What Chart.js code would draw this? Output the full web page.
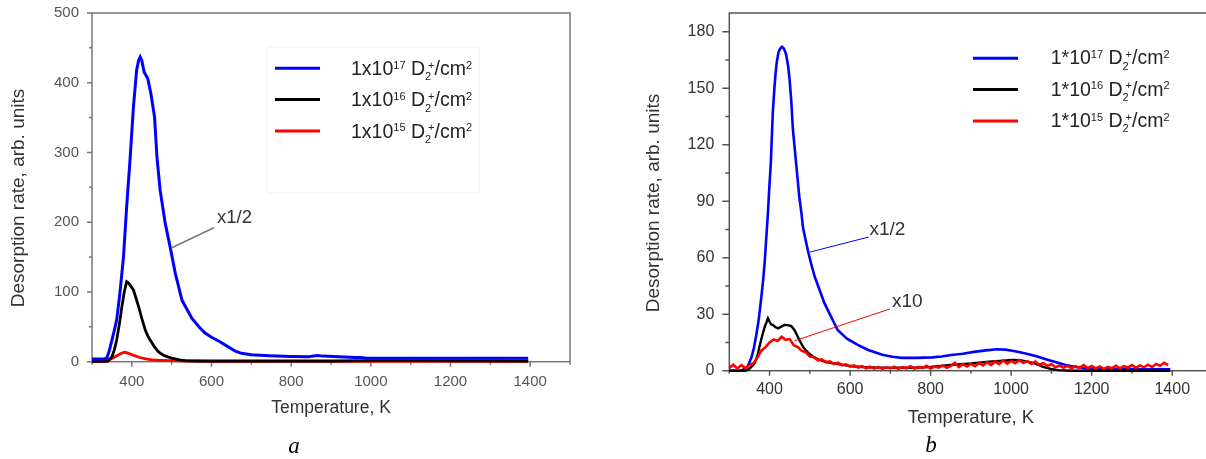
<!DOCTYPE html>
<html>
<head>
<meta charset="utf-8">
<script src="https://cdn.jsdelivr.net/npm/chart.js@4/dist/chart.umd.min.js"></script>
<style>
html, body { margin: 0; padding: 0; background: #fff; overflow: hidden; width: 1206px; height: 459px; }
#wrapA { position: absolute; left: 0; top: 0; width: 600px; height: 459px; }
#wrapB { position: absolute; left: 606px; top: 0; width: 620px; height: 459px; }
.cap { position: absolute; font: italic 23px "Liberation Serif", "DejaVu Serif", serif; color: #000; transform: translate(-50%, -50%); }
</style>
</head>
<body>
<div id="wrapA"><canvas id="chartA" width="600" height="459"></canvas></div>
<div id="wrapB"><canvas id="chartB" width="620" height="459"></canvas></div>
<div class="cap" style="left:294px;top:446px">a</div>
<div class="cap" style="left:931px;top:445px">b</div>
<script>
const FONT = '"Liberation Sans", Arial, sans-serif';

// ---------------- DATA ----------------
const labels17A = '1x10^{17} D_{2}^{+}/cm^{2}';
const labels16A = '1x10^{16} D_{2}^{+}/cm^{2}';
const labels15A = '1x10^{15} D_{2}^{+}/cm^{2}';
const labels17B = '1*10^{17} D_{2}^{+}/cm^{2}';
const labels16B = '1*10^{16} D_{2}^{+}/cm^{2}';
const labels15B = '1*10^{15} D_{2}^{+}/cm^{2}';

const xTicks = [400, 600, 800, 1000, 1200, 1400];
const yTicksA = [0, 100, 200, 300, 400, 500];
const yTicksB = [0, 30, 60, 90, 120, 150, 180];

// panel a
const tempA17 = [300, 330, 337, 343, 350, 356, 362, 370, 379, 387, 396, 404, 412, 417, 421, 425, 431, 440, 448, 457,
    463, 471, 484, 496, 509, 526, 551, 570, 584, 600, 620, 640, 660, 675, 700, 745, 800, 843, 865, 880,
    920, 960, 975, 990, 1100, 1200, 1300, 1395];
const rateA17 = [4, 4, 5, 15, 31, 45, 60, 98, 150, 222, 294, 365, 418, 432, 437, 432, 415, 406, 384, 351,
    294, 246, 198, 165, 127, 88, 62, 49, 41, 35, 29, 22, 15, 12, 10, 8.6, 7.5, 7, 9, 8,
    7, 6, 6, 5, 5, 5, 5, 5];

const tempA16 = [300, 340, 350, 356, 362, 369, 375, 381, 387, 393, 398, 404, 410, 417, 425, 434, 440, 446, 456, 467,
    480, 500, 520, 534, 560, 600, 700, 900, 1000, 1100, 1395];
const rateA16 = [0.5, 1, 7, 17, 31, 55, 79, 100, 114.6, 112, 108, 103, 92, 79, 62, 45, 37, 31, 22, 14,
    9, 5, 2.5, 1.5, 1, 1, 1, 1, 1.5, 1.5, 1];

const tempA15 = [300, 333, 345, 358, 370, 378, 383, 392, 405, 420, 435, 450, 470, 500, 540, 600, 1395];
const rateA15 = [0, 0, 3, 7, 11, 13, 13.5, 12, 9, 6, 4, 2.5, 2, 1.5, 1, 0.5, 0.5];

// panel b
const tempB17 = [300, 330, 345, 355, 361, 367, 373, 379, 384, 388, 392, 396, 399, 403, 408, 412, 415, 418, 422, 426,
    431, 436, 441, 446, 450, 454, 458, 462, 466, 470, 474, 479, 483, 489, 495, 503, 512, 524, 536, 552,
    569, 592, 619, 645, 680, 705, 728, 766, 804, 827, 851, 880, 908, 937, 965, 985, 1003, 1022, 1041, 1065,
    1088, 1112, 1135, 1160, 1182, 1206, 1230, 1300, 1395];
const rateB17 = [0, 0, 2, 7, 12, 19, 27, 38, 48, 58, 71, 84, 96, 110, 137, 150, 158, 164, 169, 171,
    172, 171, 168, 162, 154, 143, 128, 119, 110, 101, 92, 84, 76, 70, 64, 57, 50, 43, 36, 29,
    21.6, 17, 13.7, 11, 8.5, 7.4, 6.8, 6.8, 7.1, 7.5, 8.3, 9, 10, 10.8, 11.4, 11.2, 10.6, 9.8, 8.9, 7.5,
    6, 4.5, 3, 2, 1.3, 1, 0.7, 0.7, 0.7];

const tempB16 = [300, 340, 350, 357, 363, 370, 375, 381, 388, 392, 396, 400, 404, 408, 414, 421, 428, 437, 446, 454,
    462, 470, 476, 483, 490, 499, 510, 520, 535, 550, 567, 585, 605, 630, 662, 700, 757, 800, 851, 900,
    946, 980, 1003, 1022, 1041, 1060, 1079, 1098, 1117, 1150, 1395];
const rateB16 = [0, 0, 1, 2.5, 4, 8, 12.8, 18, 23.4, 25.5, 27.8, 26, 24.5, 24.3, 23.2, 22.5, 23.3, 24.3, 24.2, 23.7,
    21.5, 18, 15.5, 12.8, 10.8, 9, 7.2, 6, 5, 4.2, 3.6, 3, 2.4, 2, 1.7, 1.6, 1.6, 2, 3, 3.8,
    4.8, 5.3, 5.7, 5.6, 4.8, 3.8, 2, 1, 0.3, 0, 0];

const tempB15 = [300, 310, 320, 330, 340, 350, 360, 370, 380, 390, 400, 410, 420, 430, 440, 450, 460, 470, 480, 490,
    500, 510, 520, 530, 540, 550, 560, 570, 580, 590, 600, 610, 620, 630, 640, 650, 660, 670, 680, 690,
    700, 710, 720, 730, 740, 750, 760, 770, 780, 790, 800, 810, 820, 830, 840, 850, 860, 870, 880, 890,
    900, 910, 920, 930, 940, 950, 960, 970, 980, 990, 1000, 1010, 1020, 1030, 1040, 1050, 1060, 1070, 1080, 1090,
    1100, 1110, 1120, 1130, 1140, 1150, 1160, 1170, 1180, 1190, 1200, 1210, 1220, 1230, 1240, 1250, 1260, 1270, 1280, 1290,
    1300, 1310, 1320, 1330, 1340, 1350, 1360, 1370, 1380, 1390];
const rateB15 = [1.5, 3.2, 1.2, 3.0, 1.4, 3.0, 4.0, 7.0, 10.8, 12.5, 15.0, 16.6, 15.8, 18.0, 16.4, 16.8, 13.5, 12.6, 10.5, 9.8,
    7.5, 7.2, 5.5, 6.0, 4.5, 5.0, 3.5, 4.2, 2.8, 3.4, 2.2, 2.8, 1.6, 2.4, 1.3, 2.1, 1.1, 2.0, 1.0, 1.8,
    1.2, 2.1, 1.0, 1.9, 1.3, 2.4, 1.1, 2.0, 1.5, 2.6, 1.2, 2.2, 1.6, 2.8, 1.5, 2.5, 4.2, 2.0, 3.5, 2.2,
    3.6, 2.4, 4.0, 2.8, 4.5, 3.0, 4.8, 3.5, 5.5, 3.8, 5.2, 4.0, 5.6, 4.2, 5.0, 3.6, 4.8, 3.2, 4.0, 2.6,
    3.4, 1.8, 2.8, 1.5, 2.6, 1.2, 2.4, 1.5, 3.0, 1.4, 2.5, 1.2, 2.2, 1.0, 2.0, 1.3, 2.6, 1.2, 2.4, 1.6,
    3.0, 1.5, 2.8, 1.8, 3.2, 2.0, 3.6, 2.6, 4.2, 3.0];

// ---------------- HELPERS ----------------

// draws text with ^{sup} and _{sub}; a sup right after a sub sits above it
function drawRich(ctx, text, x, y, size, color) {
    const parts = text.split(/(\^\{[^}]*\}|_\{[^}]*\})/).filter(s => s);
    const small = Math.round(size * 0.56);
    let cx = x;
    let subStart = null, subW = 0;
    ctx.fillStyle = color;
    ctx.textAlign = 'left';
    ctx.textBaseline = 'alphabetic';
    parts.forEach(p => {
        if (p[0] === '^' || p[0] === '_') {
            const t = p.slice(2, -1);
            ctx.font = small + 'px ' + FONT;
            const w = ctx.measureText(t).width;
            if (p[0] === '^') {
                const sx = subStart !== null ? subStart + subW * 0.5 : cx;
                ctx.fillText(t, sx, y - size * 0.33);
                cx = Math.max(cx, sx + w);
                subStart = null;
            } else {
                ctx.fillText(t, cx, y + size * 0.28);
                subStart = cx;
                subW = w;
                cx += w;
            }
        } else {
            ctx.font = size + 'px ' + FONT;
            ctx.fillText(p, cx, y);
            cx += ctx.measureText(p).width;
            subStart = null;
        }
    });
}

const frameTicksPlugin = {
    id: 'frameTicks',
    beforeDatasetsDraw(chart, args, o) {
        const { ctx, chartArea: { left, right, top, bottom }, scales: { x, y } } = chart;
        ctx.save();
        ctx.strokeStyle = o.color;
        ctx.lineWidth = o.width;
        ctx.strokeRect(left, top, right - left, bottom - top);
        ctx.beginPath();
        for (let v = x.min; v <= x.max; v += o.xMinor) {
            const px = x.getPixelForValue(v);
            const len = x.ticks.some(t => t.value === v) ? o.xMajorLen : o.xMinorLen;
            ctx.moveTo(px, bottom);
            ctx.lineTo(px, bottom + len);
        }
        for (let v = y.min; v <= y.max; v += o.yMinor) {
            const py = y.getPixelForValue(v);
            const len = y.ticks.some(t => t.value === v) ? o.yMajorLen : o.yMinorLen;
            ctx.moveTo(left, py);
            ctx.lineTo(left - len, py);
        }
        ctx.stroke();
        // rotated y title
        const t = o.yTitle;
        ctx.translate(t.x, t.y);
        ctx.rotate(-Math.PI / 2);
        ctx.font = t.size + 'px ' + FONT;
        ctx.fillStyle = t.color;
        ctx.textAlign = 'center';
        ctx.textBaseline = 'middle';
        ctx.fillText(t.text, 0, 0);
        ctx.restore();
    }
};

const notesPlugin = {
    id: 'notes',
    afterDatasetsDraw(chart, args, o) {
        const { ctx, scales: { x, y } } = chart;
        ctx.save();
        (o.lines || []).forEach(l => {
            ctx.strokeStyle = l.color;
            ctx.lineWidth = l.width;
            ctx.beginPath();
            ctx.moveTo(x.getPixelForValue(l.from[0]), y.getPixelForValue(l.from[1]));
            ctx.lineTo(x.getPixelForValue(l.to[0]), y.getPixelForValue(l.to[1]));
            ctx.stroke();
        });
        (o.texts || []).forEach(t => {
            ctx.font = t.size + 'px ' + FONT;
            ctx.fillStyle = t.color;
            ctx.textAlign = 'left';
            ctx.textBaseline = 'middle';
            ctx.fillText(t.text, x.getPixelForValue(t.at[0]), y.getPixelForValue(t.at[1]));
        });
        ctx.restore();
    }
};

const richLegendPlugin = {
    id: 'richLegend',
    afterDraw(chart, args, o) {
        const ctx = chart.ctx;
        ctx.save();
        if (o.box) {
            ctx.strokeStyle = o.boxColor;
            ctx.lineWidth = 1;
            ctx.strokeRect(o.box[0], o.box[1], o.box[2] - o.box[0], o.box[3] - o.box[1]);
        }
        chart.data.datasets.forEach(ds => {
            const cy = o.rows[ds.legendIndex];
            ctx.strokeStyle = ds.borderColor;
            ctx.lineWidth = o.lineWidth;
            ctx.beginPath();
            ctx.moveTo(o.x0, cy);
            ctx.lineTo(o.x1, cy);
            ctx.stroke();
            drawRich(ctx, ds.label, o.textX, cy + o.baseline, o.size, o.color);
        });
        ctx.restore();
    }
};

function makeSeries(label, xs, ys, color, order, legendIndex, width) {
    return {
        label: label,
        data: xs.map((v, i) => ({ x: v, y: ys[i] })),
        borderColor: color,
        borderWidth: width,
        pointRadius: 0,
        tension: 0,
        fill: false,
        order: order,
        clip: 4,
        legendIndex: legendIndex
    };
}

function buildChart(id, p) {
    return new Chart(document.getElementById(id), {
        type: 'line',
        data: { datasets: p.datasets },
        options: {
            responsive: false,
            animation: false,
            events: [],
            layout: { padding: p.padding },
            plugins: {
                legend: { display: false },
                tooltip: { enabled: false },
                frameTicks: p.frame,
                notes: p.notes,
                richLegend: p.legend
            },
            scales: {
                x: {
                    type: 'linear', min: 300, max: 1500,
                    afterBuildTicks: s => { s.ticks = xTicks.map(v => ({ value: v })); },
                    afterFit: s => { s.height = p.xHeight; },
                    grid: { display: false, drawTicks: false },
                    border: { display: false },
                    ticks: { callback: v => String(v), font: { family: FONT, size: p.tickSize }, color: p.tickColor, padding: p.xPad, maxRotation: 0, autoSkip: false },
                    title: { display: true, text: 'Temperature, K', color: p.titleColor, font: { family: FONT, size: p.xTitleSize }, padding: { top: 0, bottom: p.xTitlePad } }
                },
                y: {
                    type: 'linear', min: 0, max: p.yMax,
                    afterBuildTicks: s => { s.ticks = p.yTicks.map(v => ({ value: v })); },
                    // keep the plot frame where the layout padding puts it
                    afterFit: s => { s.width = p.yWidth; s.paddingTop = 0; s.paddingBottom = 0; },
                    grid: { display: false, drawTicks: false },
                    border: { display: false },
                    ticks: { callback: v => String(v), font: { family: FONT, size: p.tickSize }, color: p.tickColor, padding: p.yPad, autoSkip: false },
                    title: { display: false }
                }
            }
        },
        plugins: [frameTicksPlugin, notesPlugin, richLegendPlugin]
    });
}

// ---------------- CHARTS ----------------

buildChart('chartA', {
    datasets: [
        makeSeries(labels17A, tempA17, rateA17, '#0000ff', 0, 0, 3),
        makeSeries(labels16A, tempA16, rateA16, '#000000', 1, 1, 2.8),
        makeSeries(labels15A, tempA15, rateA15, '#ff0000', 2, 2, 2.8)
    ],
    padding: { top: 13, right: 30, left: 0, bottom: 0 },
    yMax: 500, yTicks: yTicksA,
    xHeight: 97.3, yWidth: 92,
    tickSize: 15, tickColor: '#555', xPad: 11, yPad: 13,
    titleColor: '#333', xTitleSize: 17.5, xTitlePad: 40,
    frame: {
        color: '#777', width: 1.5, xMinor: 100, yMinor: 50, xMajorLen: 5, xMinorLen: 3, yMajorLen: 5, yMinorLen: 3,
        yTitle: { text: 'Desorption rate, arb. units', x: 19, y: 198, size: 19, color: '#333' }
    },
    notes: {
        lines: [{ from: [499, 163], to: [606, 192], color: '#777', width: 1.5 }],
        texts: [{ text: 'x1/2', at: [614, 206], size: 18.5, color: '#333' }]
    },
    legend: { x0: 275, x1: 320, textX: 351, rows: [68.3, 99.5, 131], baseline: 6.7, size: 19.5, lineWidth: 3, color: '#222', box: [267, 47, 479, 193], boxColor: '#f0f0f0' }
});

buildChart('chartB', {
    datasets: [
        makeSeries(labels17B, tempB17, rateB17, '#0000ff', 2, 0, 2.6),
        makeSeries(labels16B, tempB16, rateB16, '#000000', 1, 1, 2.4),
        makeSeries(labels15B, tempB15, rateB15, '#ff0000', 0, 2, 2.6)
    ],
    padding: { top: 13, right: 13.5, left: 0, bottom: 0 },
    yMax: 190, yTicks: yTicksB,
    xHeight: 88.3, yWidth: 123.3,
    tickSize: 16, tickColor: '#333', xPad: 9, yPad: 15,
    titleColor: '#333', xTitleSize: 18.5, xTitlePad: 30,
    frame: {
        color: '#555', width: 1.5, xMinor: 100, yMinor: 15, xMajorLen: 5, xMinorLen: 3, yMajorLen: 7, yMinorLen: 4,
        yTitle: { text: 'Desorption rate, arb. units', x: 48, y: 203, size: 19, color: '#333' }
    },
    notes: {
        lines: [
            { from: [500, 63], to: [646, 71], color: '#0000ff', width: 1 },
            { from: [462, 15.9], to: [699, 32.8], color: '#ff0000', width: 1 }
        ],
        texts: [
            { text: 'x1/2', at: [648, 74.8], size: 19, color: '#333' },
            { text: 'x10', at: [704, 36.5], size: 19, color: '#333' }
        ]
    },
    legend: { x0: 367, x1: 412, textX: 444.7, rows: [58.3, 89.5, 121], baseline: 6, size: 19.5, lineWidth: 3, color: '#222' }
});
</script>
</body>
</html>
